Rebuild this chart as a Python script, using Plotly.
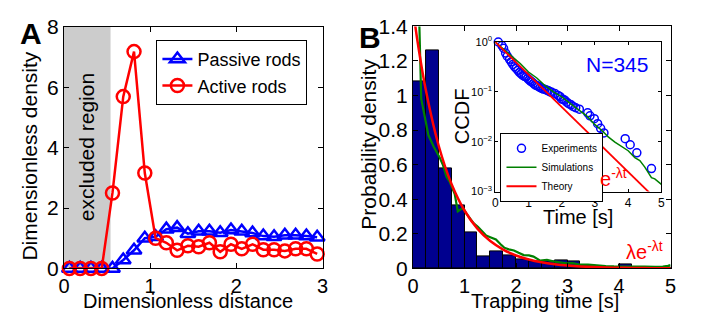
import plotly.graph_objects as go

W, H = 709, 324
FONT = "Liberation Sans, Arial, sans-serif"

# ---------------- Panel A data ----------------
dist = [0.0625, 0.1875, 0.3125, 0.4375, 0.5625, 0.6875, 0.8125, 0.9375,
        1.0625, 1.1875, 1.3125, 1.4375, 1.5625, 1.6875, 1.8125, 1.9375,
        2.0625, 2.1875, 2.3125, 2.4375, 2.5625, 2.6875, 2.8125, 2.9375]
passive = [0.0, 0.0, 0.0, 0.0, 0.0, 0.28, 0.6, 1.0,
           1.05, 1.3, 1.35, 1.15, 1.23, 1.23, 1.18, 1.27,
           1.23, 1.17, 1.07, 1.05, 1.1, 1.1, 1.07, 1.03]
active = [0.0, 0.0, 0.0, 0.0, 2.5, 5.69, 7.18, 3.16,
          1.0, 0.85, 0.6, 0.75, 0.72, 0.85, 0.55, 0.8,
          0.65, 0.8, 0.62, 0.62, 0.58, 0.65, 0.65, 0.48]
excluded_end = 0.54

# ---------------- Panel B data ----------------
bin_starts = [0.0, 0.25, 0.5, 0.75, 1.0, 1.25, 1.5, 1.75, 2.0, 2.25,
              2.5, 2.75, 3.0, 3.25, 3.5, 3.75, 4.0, 4.25, 4.5, 4.75]
hist_vals = [1.08, 1.26, 0.58, 0.365, 0.21, 0.072, 0.097, 0.075, 0.052, 0.04,
             0.04, 0.045, 0.038, 0.02, 0.01, 0.005, 0.025, 0.003, 0.008, 0.008]

sim_t = [0.05, 0.12, 0.16, 0.20, 0.24, 0.30, 0.40, 0.49, 0.52, 0.58, 0.65, 0.715,
         0.78, 0.81, 0.87, 0.92, 0.97, 1.03, 1.10, 1.18, 1.26, 1.35, 1.42, 1.50,
         1.61, 1.70, 1.77, 1.86, 1.96, 2.05, 2.15, 2.25, 2.34, 2.47, 2.60, 2.72,
         2.85, 2.98, 3.10, 3.23, 3.40, 3.55, 3.74, 3.90, 4.10, 4.30, 4.50, 4.70,
         4.85, 4.95, 5.0]
sim_pdf = [2.0, 1.45, 0.98, 0.92, 0.84, 0.77, 0.705, 0.66, 0.64, 0.60, 0.53, 0.50,
           0.45, 0.43, 0.33, 0.34, 0.35, 0.32, 0.29, 0.26, 0.24, 0.21, 0.19, 0.18,
           0.167, 0.14, 0.12, 0.11, 0.104, 0.09, 0.077, 0.075, 0.068, 0.045, 0.05, 0.041,
           0.035, 0.029, 0.03, 0.022, 0.022, 0.017, 0.014, 0.012, 0.010, 0.011, 0.010, 0.009,
           0.010, 0.015, 0.02]

theory_t = [0.0, 0.1, 0.25, 0.5, 0.75, 1.0, 1.25, 1.5, 1.75, 2.0, 2.25, 2.5,
            2.75, 3.0, 3.25, 3.5, 3.75, 4.0, 4.25, 4.5, 4.75, 5.0]
theory_pdf = [1.5, 1.29, 1.03, 0.708, 0.487, 0.335, 0.23, 0.158, 0.109, 0.0747, 0.0513, 0.0353,
              0.0243, 0.0167, 0.0114, 0.0079, 0.0054, 0.0037, 0.0026, 0.0018, 0.0012, 0.0008]
theory_ccdf = [1.0, 0.861, 0.687, 0.472, 0.325, 0.223, 0.153, 0.105, 0.0724, 0.0498, 0.0342, 0.0235,
               0.0162, 0.0111, 0.00763, 0.00525, 0.00361, 0.00248, 0.0017, 0.00117, 0.000805, 0.000553]

# ---------------- Inset data ----------------
exp_t = [0.09, 0.2, 0.25, 0.31, 0.36, 0.43, 0.48, 0.53, 0.58, 0.63, 0.68, 0.73, 0.78,
         0.83, 0.88, 0.93, 0.98, 1.02, 1.06, 1.10, 1.15, 1.20, 1.25, 1.30, 1.35, 1.40,
         1.45, 1.50, 1.55, 1.60, 1.65, 1.70, 1.79, 1.89, 1.95, 1.99, 2.05, 2.09, 2.15,
         2.21, 2.28, 2.34, 2.42, 2.53, 2.78, 2.85, 2.98, 3.08, 3.17, 3.27, 3.91, 4.06,
         4.26, 4.7]
exp_ccdf = [1.0, 0.85, 0.75, 0.6, 0.52, 0.45, 0.40, 0.355, 0.32, 0.295, 0.27, 0.245, 0.23,
            0.214, 0.205, 0.2, 0.185, 0.174, 0.165, 0.158, 0.148, 0.138, 0.133, 0.129, 0.122, 0.117,
            0.114, 0.112, 0.108, 0.105, 0.1, 0.098, 0.093, 0.085, 0.08, 0.072, 0.07, 0.068, 0.062,
            0.058, 0.055, 0.051, 0.048, 0.045, 0.038, 0.033, 0.029, 0.023, 0.0186, 0.015, 0.0115, 0.0087,
            0.006, 0.0029]

simc_t = [0.0, 0.25, 0.5, 0.75, 1.0, 1.25, 1.5, 1.75, 2.0, 2.25, 2.5, 2.75, 3.0, 3.2,
          3.4, 3.6, 3.8, 4.0, 4.2, 4.35, 4.5, 4.6, 4.7, 4.8, 4.9, 5.0]
simc_ccdf = [1.0, 0.72, 0.51, 0.37, 0.25, 0.19, 0.133, 0.10, 0.079, 0.058, 0.044, 0.033, 0.022, 0.017,
             0.0125, 0.0098, 0.0081, 0.0066, 0.0048, 0.0042, 0.0031, 0.0025, 0.0019, 0.0018, 0.0016, 0.0014]


def px(x):
    return x / W


def py(y):
    return 1 - y / H


RED = "#ff0000"
BLUE = "#0000ff"
GREEN = "#008000"

fig = go.Figure()

# Panel A
fig.add_trace(go.Scatter(x=dist, y=passive, mode="lines+markers", name="Passive rods",
                         line=dict(color=BLUE, width=2.5),
                         marker=dict(symbol="triangle-up-open", size=13, color=BLUE,
                                     line=dict(width=2.5, color=BLUE)),
                         xaxis="x", yaxis="y", legend="legend", cliponaxis=False))
fig.add_trace(go.Scatter(x=dist, y=active, mode="lines+markers", name="Active rods",
                         line=dict(color=RED, width=2.5),
                         marker=dict(symbol="circle-open", size=13, color=RED,
                                     line=dict(width=2.5, color=RED)),
                         xaxis="x", yaxis="y", legend="legend", cliponaxis=False))

# Panel B main
fig.add_trace(go.Bar(x=bin_starts, y=hist_vals, width=0.25, offset=0,
                     marker=dict(color="#00008f", line=dict(color="black", width=1)),
                     showlegend=False, xaxis="x2", yaxis="y2"))
fig.add_trace(go.Scatter(x=sim_t, y=sim_pdf, mode="lines", line=dict(color=GREEN, width=2.2),
                         showlegend=False, xaxis="x2", yaxis="y2"))
fig.add_trace(go.Scatter(x=theory_t, y=theory_pdf, mode="lines", line=dict(color=RED, width=2.5, shape="spline"),
                         showlegend=False, xaxis="x2", yaxis="y2"))

# Inset
fig.add_trace(go.Scatter(x=exp_t, y=exp_ccdf, mode="markers", name="Experiments",
                         marker=dict(symbol="circle-open", size=8, color=BLUE, line=dict(width=1.5, color=BLUE)),
                         xaxis="x3", yaxis="y3", legend="legend2", cliponaxis=False))
fig.add_trace(go.Scatter(x=simc_t, y=simc_ccdf, mode="lines", name="Simulations",
                         line=dict(color=GREEN, width=1.5),
                         xaxis="x3", yaxis="y3", legend="legend2"))
fig.add_trace(go.Scatter(x=theory_t, y=theory_ccdf, mode="lines", name="Theory",
                         line=dict(color=RED, width=1.8),
                         xaxis="x3", yaxis="y3", legend="legend2"))

ax_common = dict(showline=True, linecolor="black", linewidth=1, mirror="ticks", ticks="inside",
                 tickcolor="black", showgrid=False, zeroline=False, ticklen=5)

fig.update_layout(
    width=W, height=H, margin=dict(l=0, r=0, t=0, b=0),
    paper_bgcolor="white", plot_bgcolor="white",
    font=dict(family=FONT, color="black"),
    xaxis=dict(domain=[px(59), px(322)], range=[0, 3], dtick=1, anchor="y",
               tickfont=dict(size=20), **ax_common),
    yaxis=dict(domain=[py(276), py(16)], range=[0, 8], dtick=2, anchor="x",
               tickfont=dict(size=21), **ax_common),
    xaxis2=dict(domain=[px(414), px(676)], range=[0, 5], dtick=1, anchor="y2",
                tickfont=dict(size=20), **ax_common),
    yaxis2=dict(domain=[py(276), py(15.5)], range=[0, 1.4], anchor="x2",
                tickvals=[0, 0.2, 0.4, 0.6, 0.8, 1.0, 1.2, 1.4],
                ticktext=["0", "0.2", "0.4", "0.6", "0.8", "1", "1.2", "1.4"],
                tickfont=dict(size=21), **ax_common),
    xaxis3=dict(domain=[px(497.7), px(666.7)], range=[0, 5], dtick=1, anchor="y3",
                tickfont=dict(size=12), **{**ax_common, "ticklen": 3}),
    yaxis3=dict(domain=[py(193.3), py(32.3)], type="log", range=[-3, 0], anchor="x3",
                tickvals=[0.001, 0.01, 0.1, 1],
                ticktext=["10<sup>−3</sup>", "10<sup>−2</sup>", "10<sup>−1</sup>", "10<sup>0</sup>"],
                tickfont=dict(size=11), **{**ax_common, "ticklen": 3}),
    legend=dict(x=px(153), y=py(30), xanchor="left", yanchor="top",
                bgcolor="white", bordercolor="black", borderwidth=1,
                font=dict(size=18), itemwidth=30, tracegroupgap=0),
    legend2=dict(x=px(503), y=py(130), xanchor="left", yanchor="top",
                 bgcolor="white", bordercolor="black", borderwidth=1,
                 font=dict(size=10), itemwidth=30, tracegroupgap=0),
    bargap=0,
    shapes=[dict(type="rect", xref="x", yref="y", x0=0, x1=excluded_end, y0=0, y1=8,
                 fillcolor="#cccccc", line=dict(width=0), layer="below")],
)


def ann(text, x, y, size, color="black", angle=0, xref="paper", yref="paper"):
    fig.add_annotation(text=text, x=x, y=y, xref=xref, yref=yref, showarrow=False,
                       font=dict(size=size, color=color, family=FONT), textangle=angle,
                       xanchor="center", yanchor="middle")


ann("<b>A</b>", px(25), py(23), 30)
ann("<b>B</b>", px(370), py(27), 30)
ann("excluded region", 0.26, 4.03, 21, angle=-90, xref="x", yref="y")
ann("Dimensionless distance", px(185), py(311), 20)
ann("Dimensionless density", px(24), py(155), 21, angle=-90)
ann("Trapping time [s]", px(548), py(311), 20)
ann("Probability density", px(369), py(142), 21, angle=-90)
ann("Time [s]", px(582), py(221), 20)
ann("CCDF", px(464), py(112), 20, angle=-90)
ann("N=345", px(621.5), py(56.5), 21, color=BLUE)
ann("e<sup>-λt</sup>", px(618), py(178), 20, color=RED)
ann("λe<sup>-λt</sup>", px(649), py(257), 20, color=RED)

fig.write_html("out.html")
